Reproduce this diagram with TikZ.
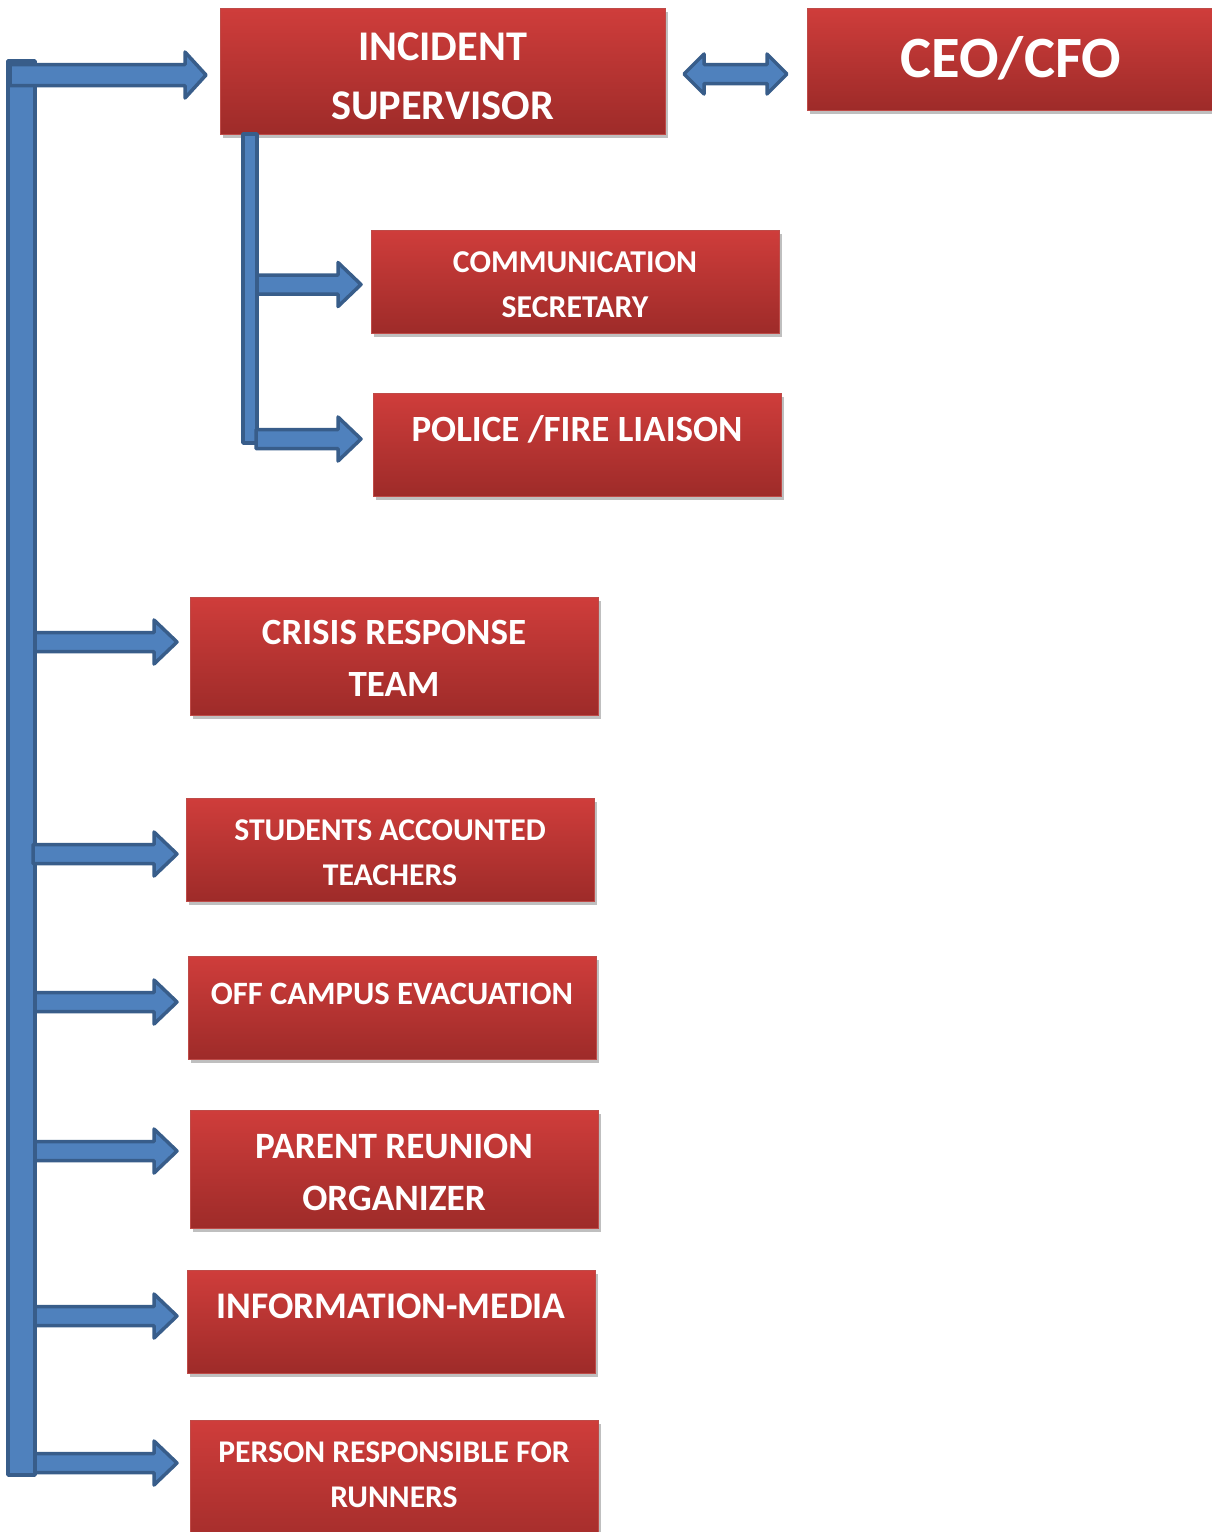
\documentclass[tikz,border=0pt]{standalone}
\usepackage{fontspec}
\setmainfont{Carlito}
\usetikzlibrary{calc,shadows}
\definecolor{redT}{RGB}{207,61,59}
\definecolor{redM}{RGB}{192,55,53}
\definecolor{redB}{RGB}{158,43,41}
\definecolor{redE}{RGB}{190,75,72}
\definecolor{blueF}{RGB}{79,129,189}
\definecolor{blueD}{RGB}{56,93,138}
\newcommand\fsz[1]{\fontsize{#1}{#1}\selectfont\bfseries}
\newcommand\rarrow[6]{\draw[barrow] (#1,{#3-#4}) -- ({#2-#6},{#3-#4}) -- ({#2-#6},{#3-#5}) -- (#2,#3) -- ({#2-#6},{#3+#5}) -- ({#2-#6},{#3+#4}) -- (#1,{#3+#4}) -- cycle;}
\tikzset{
  box/.style={rectangle, anchor=north west, inner sep=0pt, outer sep=0pt,
    draw=redE, line width=0.8pt, top color=redT, middle color=redM, bottom color=redB,
    drop shadow={shadow xshift=2.5pt, shadow yshift=-3.5pt, fill=black, opacity=0.25}},
  txt/.style={text=white, anchor=base, inner sep=0pt},
  barrow/.style={fill=blueF, draw=blueD, line width=3.5pt, line join=round}
}
\begin{document}
\begin{tikzpicture}[x=1pt,y=-1pt]
\useasboundingbox (0,0) rectangle (1212,1532);
\clip (0,0) rectangle (1212,1532);
% boxes
\node[box, minimum width=445pt, minimum height=126pt] (is)  at (220,8) {};
\node[box, minimum width=430pt, minimum height=102pt] (ceo) at (807,8) {};
\node[box, minimum width=408pt, minimum height=103pt] (cs)  at (371,230) {};
\node[box, minimum width=408pt, minimum height=103pt] (pf)  at (373,393) {};
\node[box, minimum width=408pt, minimum height=118pt] (crt) at (190,597) {};
\node[box, minimum width=408pt, minimum height=103pt] (sat) at (186,798) {};
\node[box, minimum width=408pt, minimum height=103pt] (oce) at (188,956) {};
\node[box, minimum width=408pt, minimum height=118pt] (pro) at (190,1110) {};
\node[box, minimum width=408pt, minimum height=103pt] (im)  at (187,1270) {};
\node[box, minimum width=408pt, minimum height=140pt] (prr) at (190,1420) {};
% texts
\node[txt, font=\fsz{42.3}] at ($(is.north)+(0,52.5)$) {INCIDENT};
\node[txt, font=\fsz{42.3}] at ($(is.north)+(0,111.5)$) {SUPERVISOR};
\node[txt, font=\fsz{58.5}] at ($(ceo.north west)+(204,69)$) {CEO/CFO};
\node[txt, font=\fsz{31.8}] at ($(cs.north)+(0,42)$) {COMMUNICATION};
\node[txt, font=\fsz{31.8}] at ($(cs.north)+(0,87)$) {SECRETARY};
\node[txt, font=\fsz{37}] at ($(pf.north)+(0,48)$) {POLICE /FIRE LIAISON};
\node[txt, font=\fsz{37}] at ($(crt.north)+(0,47)$) {CRISIS RESPONSE};
\node[txt, font=\fsz{37}] at ($(crt.north)+(0,99)$) {TEAM};
\node[txt, font=\fsz{31.7}] at ($(sat.north)+(0,42)$) {STUDENTS ACCOUNTED};
\node[txt, font=\fsz{31.7}] at ($(sat.north)+(0,87)$) {TEACHERS};
\node[txt, font=\fsz{32.6}] at ($(oce.north)+(0,48)$) {OFF CAMPUS EVACUATION};
\node[txt, font=\fsz{37.2}] at ($(pro.north)+(0,48)$) {PARENT REUNION};
\node[txt, font=\fsz{37.2}] at ($(pro.north)+(0,100)$) {ORGANIZER};
\node[txt, font=\fsz{37.6}] at ($(im.north)+(0,48)$) {INFORMATION-MEDIA};
\node[txt, font=\fsz{31.6}] at ($(prr.north)+(0,42)$) {PERSON RESPONSIBLE FOR};
\node[txt, font=\fsz{31.6}] at ($(prr.north)+(0,87)$) {RUNNERS};
% main bar and arrows
\draw[barrow] (8,61) rectangle (35,1475);
\rarrow{10}{206}{75}{10.5}{23}{21}
\rarrow{35}{177}{642}{9.5}{22}{23}
\rarrow{33}{177}{854}{9.5}{22}{23}
\rarrow{35}{177}{1002}{9.5}{22}{23}
\rarrow{35}{177}{1151}{9.5}{22}{23}
\rarrow{35}{177}{1316}{9.5}{22}{23}
\rarrow{35}{177}{1463}{9.5}{22}{23}
% sub bar and arrows
\draw[barrow] (243,134) rectangle (257,443);
\rarrow{257}{361}{284.5}{9.5}{22}{23}
\rarrow{256}{361}{439}{9.5}{22}{23}
% double arrow
\draw[barrow] (684,74) -- (704,54) -- (704,64.5) -- (767,64.5) -- (767,54) -- (787,74)
  -- (767,94) -- (767,83.5) -- (704,83.5) -- (704,94) -- cycle;
\end{tikzpicture}
\end{document}
